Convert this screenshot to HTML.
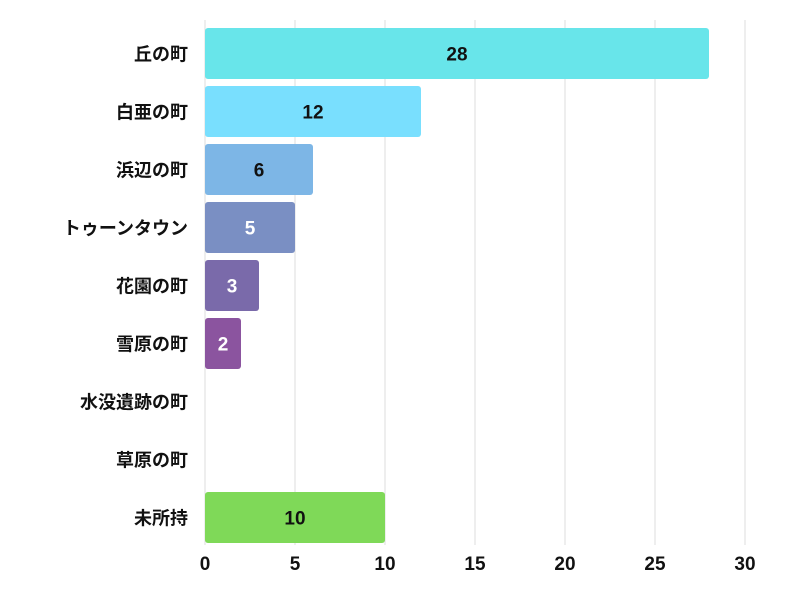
<!DOCTYPE html>
<html><head><meta charset="utf-8">
<style>
html,body{margin:0;padding:0;background:#fff;}
svg text{font-family:"Liberation Sans","Noto Sans CJK JP",sans-serif;font-weight:bold;}
</style></head>
<body>
<svg id="chart" width="800" height="600" xmlns="http://www.w3.org/2000/svg"></svg>
<script>
const categories = ["丘の町","白亜の町","浜辺の町","トゥーンタウン","花園の町","雪原の町","水没遺跡の町","草原の町","未所持"];
const values = [28,12,6,5,3,2,0,0,10];
const barColors = ["#68e5ea","#79dffe","#7db6e6","#7a8fc3","#7a6aaa","#8b549f","#cccccc","#cccccc","#7fd958"];
const labelColors = ["#111","#111","#111","#fff","#fff","#fff","#111","#111","#111"];
const ticks = [0,5,10,15,20,25,30];

const svg = document.getElementById('chart');
const NS = "http://www.w3.org/2000/svg";
const x0 = 205, x1 = 745, xMax = 30;
const xs = v => x0 + (x1 - x0) * v / xMax;
const top0 = 28, pitch = 58, barH = 51;
const ys = i => top0 + i * pitch;

function mk(tag, attrs){ const e = document.createElementNS(NS, tag); for (const k in attrs) e.setAttribute(k, attrs[k]); svg.appendChild(e); return e; }

ticks.forEach(t => {
  const g = mk('line', {x1: xs(t), x2: xs(t), y1: 20, y2: 545, stroke: '#dddddd', 'stroke-width': 1});
  
  
  const tl = mk('text', {x: xs(t), y: 570, 'text-anchor': 'middle', 'font-size': 19, fill: '#111'});
  tl.textContent = t;
  
  
});

categories.forEach((c, i) => {
  const y = ys(i);
  const lab = mk('text', {x: 188, y: y + barH/2 + 7, 'text-anchor': 'end', 'font-size': 18, fill: '#111'});
  lab.textContent = c;
  
  
  const v = values[i];
  if (v > 0) {
    const r = mk('rect', {x: x0, y: y, width: xs(v) - x0, height: barH, rx: 3, fill: barColors[i]});
    
    
    const vt = mk('text', {x: (x0 + xs(v)) / 2, y: y + barH/2 + 7, 'text-anchor': 'middle', 'font-size': 19, fill: labelColors[i]});
    vt.textContent = v;
    
    
  }
});
</script>
</body></html>
